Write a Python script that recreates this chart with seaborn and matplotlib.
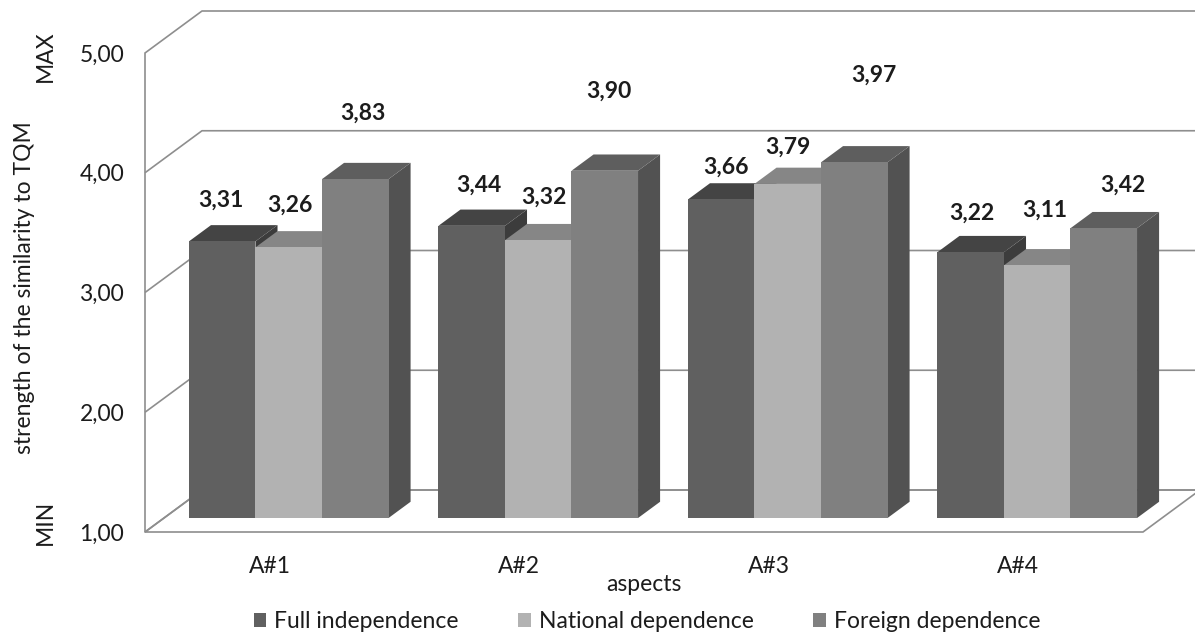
import numpy as np
import pandas as pd
import matplotlib
matplotlib.use("Agg")
import matplotlib.pyplot as plt
from matplotlib.transforms import ScaledTranslation
from matplotlib.patches import Polygon
import seaborn as sns

# ---------------- data ----------------
categories = ["A#1", "A#2", "A#3", "A#4"]
series = ["Full independence", "National dependence", "Foreign dependence"]
full_independence = [3.31, 3.44, 3.66, 3.22]
national_dependence = [3.26, 3.32, 3.79, 3.11]
foreign_dependence = [3.83, 3.90, 3.97, 3.42]
y_ticks = [1, 2, 3, 4, 5]
y_tick_labels = ["1,00", "2,00", "3,00", "4,00", "5,00"]

# ---------------- styling / layout ----------------
front_colors = ["#606060", "#b2b2b2", "#808080"]
top_colors = ["#444444", "#868686", "#5e5e5e"]
side_colors = ["#3c3c3c", "#7a7a7a", "#525252"]
grid_color = "#8e8e8e"
text_color = "#1c1c1c"
DPI = 100
W, H = 1195, 640
# full depth of the 3D box in pixels (display, y up)
DEPTH_DX, DEPTH_DY = 57.0, 42.0
BAR_D0, BAR_D1 = 0.333, 0.72
# label nudges in pixels relative to front-top centre (dx, dy up), per series per category
label_nudges = [
    [(-1, 41), (7, 41), (5, 32), (1, 39)],
    [(1, 42), (6, 43), (0, 37), (8, 55)],
    [(8, 66), (4, 80), (20, 87), (19, 43)],
]

sns.set_theme(style="white")
plt.rcParams["font.family"] = ["Lato", "DejaVu Sans"]
plt.rcParams["text.color"] = text_color

fig = plt.figure(figsize=(W / DPI, H / DPI), dpi=DPI)
ax_left, ax_right = 145, 1143
ax_top, ax_bot = 53, 532
ax = fig.add_axes([ax_left / W, 1 - ax_bot / H, (ax_right - ax_left) / W, (ax_bot - ax_top) / H])

df = pd.DataFrame({
    "aspect": categories * 3,
    "series": np.repeat(series, len(categories)),
    "value": full_independence + national_dependence + foreign_dependence,
})

sns.barplot(data=df, x="aspect", y="value", hue="series", order=categories,
            hue_order=series, palette=front_colors, saturation=1, width=0.8,
            edgecolor="none", linewidth=0, ax=ax)

ax.set_xlim(-0.5, len(categories) - 0.5)
ax.set_ylim(1, 5)
ax.autoscale(False)
for s in ax.spines.values():
    s.set_visible(False)


def proj(x, y, depth):
    px, py = ax.transData.transform((x, y))
    px += depth * DEPTH_DX
    py += depth * DEPTH_DY
    return ax.transData.inverted().transform((px, py))


x0, x1 = ax.get_xlim()
ymin = 1
# floor
floor = [proj(x0, ymin, 0), proj(x1, ymin, 0), proj(x1 + 0.3, ymin, 1), proj(x0, ymin, 1)]
floor = [proj(x0, ymin, 0), proj(x1, ymin, 0)]
fx1b = proj(x1, ymin, 1)
floor += [fx1b, proj(x0, ymin, 1)]
ax.add_patch(Polygon(floor, closed=True, facecolor="white", edgecolor=grid_color,
                     linewidth=1.2, zorder=0.5, clip_on=False))
# walls / gridlines
for v in y_ticks:
    a = proj(x0, v, 0)
    b = proj(x0, v, 1)
    c = proj(x1 + 0.2, v, 1)
    ax.plot([a[0], b[0], c[0]], [a[1], b[1], c[1]], color=grid_color, lw=1.2,
            zorder=0.6, clip_on=False, solid_capstyle="butt")
ax.plot([x0, x0], [1, 5], color=grid_color, lw=1.2, zorder=0.6, clip_on=False)

# 3D bars
front_tr = ax.transData + ScaledTranslation(BAR_D0 * DEPTH_DX / DPI, BAR_D0 * DEPTH_DY / DPI,
                                            fig.dpi_scale_trans)
bars = []
for si, cont in enumerate(ax.containers):
    for ci, p in enumerate(cont.patches):
        bars.append((p.get_x(), si, ci, p))
bars.sort(key=lambda t: t[0])

for k, (_, si, ci, p) in enumerate(bars):
    val = p.get_height()
    p.set_y(ymin)
    p.set_height(val - ymin)
    p.set_transform(front_tr)
    base = 2 + k * 0.01
    p.set_zorder(base + 0.006)
    bx0, bx1 = p.get_x(), p.get_x() + p.get_width()
    top = [proj(bx0, val, BAR_D0), proj(bx1, val, BAR_D0), proj(bx1, val, BAR_D1), proj(bx0, val, BAR_D1)]
    side = [proj(bx1, val, BAR_D0), proj(bx1, val, BAR_D1), proj(bx1, ymin, BAR_D1), proj(bx1, ymin, BAR_D0)]
    ax.add_patch(Polygon(side, closed=True, facecolor=side_colors[si], edgecolor="none",
                         zorder=base, clip_on=False))
    ax.add_patch(Polygon(top, closed=True, facecolor=top_colors[si], edgecolor="none",
                         zorder=base + 0.003, clip_on=False))
    ndx, ndy = label_nudges[si][ci]
    ax.annotate(f"{val:.2f}".replace(".", ","), xy=((bx0 + bx1) / 2, val), xycoords=front_tr,
                xytext=(ndx, ndy), textcoords="offset pixels", ha="center", va="center",
                fontsize=16.5, fontweight="bold", color=text_color, zorder=10,
                annotation_clip=False)

# axes text
ax.set_yticks(y_ticks)
ax.set_yticklabels(y_tick_labels)
ax.tick_params(axis="y", length=0, pad=15, labelsize=16.5, labelcolor=text_color)
ax.tick_params(axis="x", length=0, pad=17, labelsize=16.5, labelcolor=text_color)
ax.set_xlabel("aspects", fontsize=16.5, color=text_color, labelpad=-2)
ax.set_ylabel("strength of the similarity to TQM", fontsize=16.5, color=text_color)
ax.yaxis.label.set_va("center")
ax.yaxis.set_label_coords((25 - ax_left) / (ax_right - ax_left), (ax_bot - 288) / (ax_bot - ax_top))

fig.text(45.5 / W, 1 - 56 / H, "MAX", rotation=90, ha="center", va="center",
         fontsize=16.5, color=text_color)
fig.text(45.5 / W, 1 - 522 / H, "MIN", rotation=90, ha="center", va="center",
         fontsize=16.5, color=text_color)

sns.move_legend(ax, "center", bbox_to_anchor=(647 / W, 1 - 622 / H),
                bbox_transform=fig.transFigure, ncol=3, frameon=False, title=None,
                fontsize=16.5, handlelength=0.55, handleheight=0.55,
                handletextpad=0.35, columnspacing=2.6)

fig.savefig("out.png", dpi=DPI, facecolor="white")
